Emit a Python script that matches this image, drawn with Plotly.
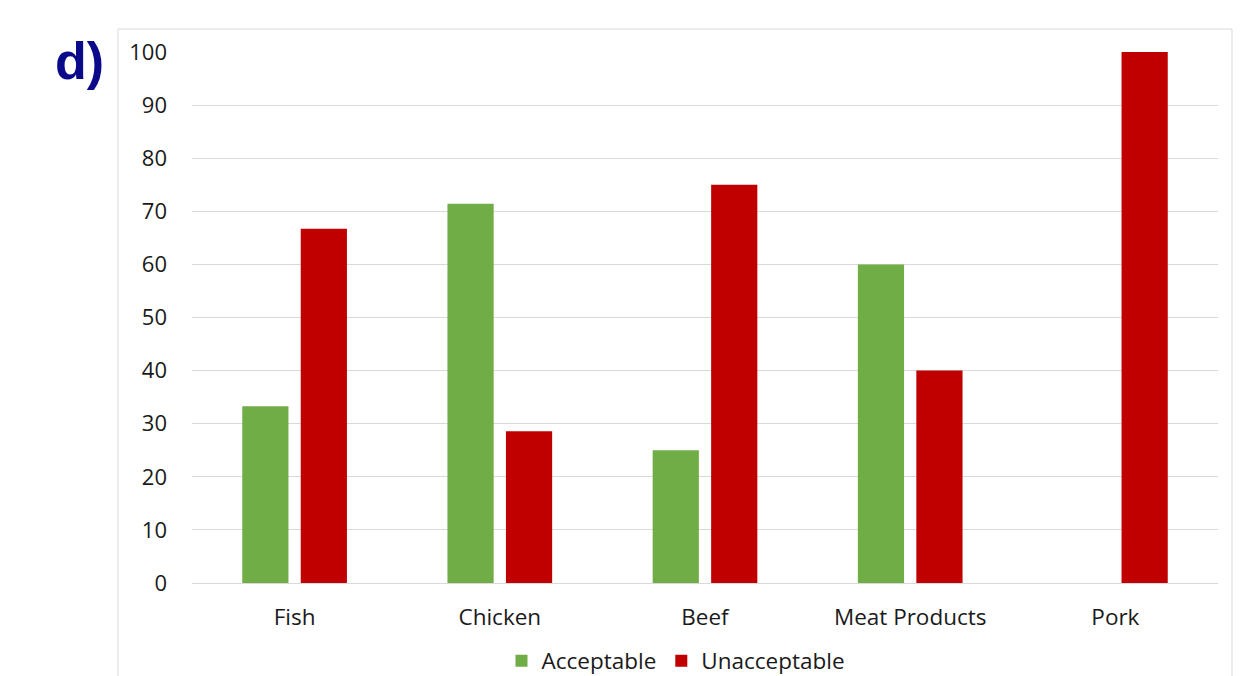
import plotly.graph_objects as go

categories = ["Fish", "Chicken", "Beef", "Meat Products", "Pork"]
acceptable = [33.3, 71.4, 25.0, 60.0, 0.0]
unacceptable = [66.7, 28.6, 75.0, 40.0, 100.0]
series_names = ["Acceptable", "Unacceptable"]
panel_label = "d)"

W, H = 1242, 676
L, R, T, B = 192, 1218, 52, 583

def px_x(x):
    return (x - L) / (R - L)

def px_y(y):
    return (B - y) / (B - T)

txt = "#1a1a1a"
fnt = "Open Sans"

fig = go.Figure()
fig.add_trace(go.Bar(x=categories, y=acceptable, name=series_names[0],
                     marker=dict(color="#70AD47", line=dict(width=0))))
fig.add_trace(go.Bar(x=categories, y=unacceptable, name=series_names[1],
                     marker=dict(color="#C00000", line=dict(width=0))))

fig.update_layout(
    width=W, height=H,
    margin=dict(l=L, r=W - R, t=T, b=H - B, pad=0, autoexpand=False),
    paper_bgcolor="white", plot_bgcolor="white",
    barmode="group", bargap=0.43, bargroupgap=0.21,
    font=dict(family=fnt, size=22, color=txt),
    showlegend=True,
    legend=dict(orientation="h", x=px_x(676), xanchor="center",
                y=px_y(661), yanchor="middle",
                font=dict(family=fnt, size=22.5, color=txt),
                itemwidth=30, tracegroupgap=0),
    xaxis=dict(showgrid=False, showline=False, zeroline=False,
               ticks="", ticklabelstandoff=18, automargin=False,
               tickfont=dict(family=fnt, size=22.5, color=txt)),
    yaxis=dict(range=[0, 100], dtick=10, tick0=0,
               showgrid=True, gridcolor="#d9d9d9", gridwidth=1,
               zeroline=True, zerolinecolor="#d9d9d9", zerolinewidth=1,
               showline=False, ticks="", ticklabelstandoff=24, automargin=False,
               tickfont=dict(family=fnt, size=22, color=txt)),
)

fig.add_shape(type="rect", xref="paper", yref="paper",
              x0=px_x(118), x1=px_x(1232), y0=px_y(690), y1=px_y(29),
              line=dict(color="#d9d9d9", width=1), fillcolor="rgba(0,0,0,0)",
              layer="below")

fig.add_annotation(text="<b>" + panel_label + "</b>", xref="paper", yref="paper",
                   x=px_x(79), y=px_y(61), xanchor="center", yanchor="middle",
                   showarrow=False,
                   font=dict(family="Liberation Sans", size=52, color="#0A0A8A"))

fig.write_html("out.html")
